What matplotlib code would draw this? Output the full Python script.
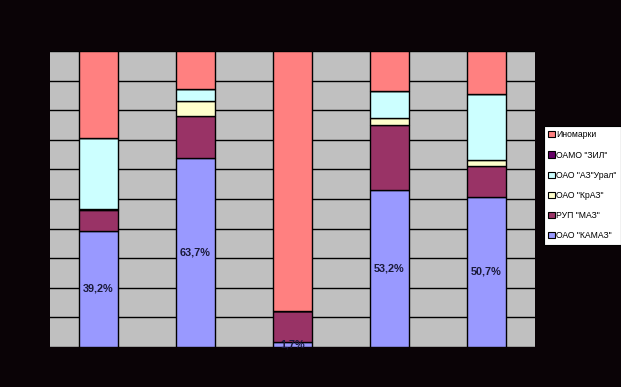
import numpy as np
import matplotlib.pyplot as plt
from matplotlib.patches import Patch

plt.rcParams['font.family'] = ['Liberation Sans', 'DejaVu Sans']

groups = ['1', '2', '3', '4', '5']
series = ['ОАО "КАМАЗ"', 'РУП "МАЗ"', 'ОАО "КрАЗ"', 'ОАО "АЗ"Урал"', 'ОАМО "ЗИЛ"', 'Иномарки']
kamaz = [39.2, 63.7, 1.7, 53.2, 50.7]
maz = [7.1, 14.4, 10.3, 21.9, 10.6]
kraz = [0.2, 4.9, 0.0, 2.4, 1.8]
ural = [24.2, 4.1, 0.0, 9.1, 22.5]
zil = [0.0, 0.0, 0.0, 0.0, 0.0]
inomarki = [29.3, 12.9, 88.0, 13.4, 14.4]
colors = ['#9999FF', '#993366', '#FFFFCC', '#CCFFFF', '#660066', '#FF8080']

bg = '#0A0306'
fig = plt.figure(figsize=(6.21, 3.87), dpi=100, facecolor=bg)
ax = fig.add_axes([50/621, 1-347/387, 485/621, 296/387])
ax.set_facecolor('#C0C0C0')

x = np.arange(len(groups))
data = [kamaz, maz, kraz, ural, zil, inomarki]
bottom = np.zeros(len(groups))
for vals, c in zip(data, colors):
    v = np.array(vals)
    ax.bar(x, v, bottom=bottom, width=0.4, color=c, edgecolor='black', linewidth=1, zorder=3)
    bottom += v

for xi, v in zip(x, kamaz):
    ax.text(xi, v/2, f'{v:.1f}%'.replace('.', ','), ha='center', va='center',
            fontsize=7.8, fontweight='bold', color='#1a1a3a', zorder=4)

ax.set_xlim(-0.5, len(groups)-0.5)
ax.set_ylim(0, 100)
ax.set_yticks(np.arange(0, 101, 10))
ax.yaxis.grid(True, color='black', linewidth=1, zorder=1)
ax.tick_params(colors=bg, labelcolor=bg, length=0)
ax.set_xticks(x)
for s in ax.spines.values():
    s.set_visible(False)

handles = [Patch(facecolor=c, edgecolor='black', linewidth=0.8) for c in colors]
leg = fig.legend(handles[::-1], series[::-1], loc='upper left',
                 bbox_to_anchor=(544/621, 1-126/387), fontsize=6.2,
                 handlelength=0.75, handleheight=0.75, handletextpad=0.15,
                 labelspacing=1.3, borderpad=0.5, borderaxespad=0,
                 frameon=True, fancybox=False, framealpha=1)
leg.get_frame().set_edgecolor('black')
leg.get_frame().set_linewidth(0.8)

fig.savefig('out.png', dpi=100, facecolor=bg)
